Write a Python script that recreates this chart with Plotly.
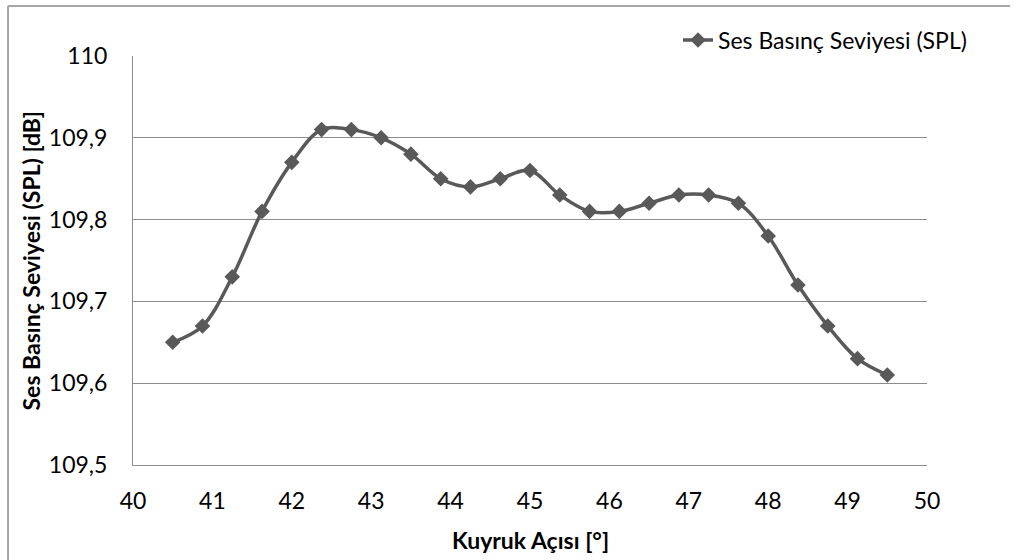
import plotly.graph_objects as go

# Tail angle [deg] and measured sound pressure level [dB]
kuyruk_acisi = [40.5, 40.875, 41.25, 41.625, 42.0, 42.375, 42.75, 43.125, 43.5,
                43.875, 44.25, 44.625, 45.0, 45.375, 45.75, 46.125, 46.5, 46.875,
                47.25, 47.625, 48.0, 48.375, 48.75, 49.125, 49.5]
spl = [109.65, 109.67, 109.73, 109.81, 109.87, 109.91, 109.91, 109.90, 109.88,
       109.85, 109.84, 109.85, 109.86, 109.83, 109.81, 109.81, 109.82, 109.83,
       109.83, 109.82, 109.78, 109.72, 109.67, 109.63, 109.61]

x_ticks = list(range(40, 51))
y_ticks = [109.5, 109.6, 109.7, 109.8, 109.9, 110.0]

FONT = "Lato, 'Open Sans', sans-serif"
SERIES_COLOR = "#595959"
GRID_COLOR = "#8c8c8c"
FRAME_COLOR = "#a6a6a6"

fig = go.Figure()
fig.add_trace(go.Scatter(
    x=kuyruk_acisi, y=spl,
    mode="lines+markers",
    name="Ses Basınç Seviyesi (SPL)",
    line=dict(color=SERIES_COLOR, width=3.5, shape="spline", smoothing=1.0),
    marker=dict(symbol="diamond", size=12, color=SERIES_COLOR),
))

fig.update_layout(
    width=1019, height=560,
    margin=dict(l=133, r=92, t=56, b=95, autoexpand=False),
    paper_bgcolor="white", plot_bgcolor="white",
    separators=",.",
    font=dict(family=FONT, size=23, color="#000000"),
    showlegend=True,
    legend=dict(
        x=1.0567, y=1.039, xref="paper", yref="paper",
        xanchor="right", yanchor="middle",
        bgcolor="rgba(0,0,0,0)", borderwidth=0,
        font=dict(family=FONT, size=23),
    ),
    xaxis=dict(
        range=[40, 50], tickvals=x_ticks,
        showgrid=False, zeroline=False,
        showline=True, linecolor=GRID_COLOR, linewidth=1,
        ticks="", ticklabelstandoff=15,
        tickfont=dict(family=FONT, size=23),
    ),
    yaxis=dict(
        range=[109.5, 110], tickvals=y_ticks,
        showgrid=True, gridcolor=GRID_COLOR, gridwidth=1,
        zeroline=False, showline=True, linecolor=GRID_COLOR, linewidth=1,
        ticks="", ticklabelstandoff=20,
        tickfont=dict(family=FONT, size=23),
    ),
    annotations=[
        dict(text="<b>Kuyruk Açısı [°]</b>", xref="paper", yref="paper",
             x=0.5, y=-0.1835, xanchor="center", yanchor="middle",
             showarrow=False, font=dict(family=FONT, size=23)),
        dict(text="<b>Ses Basınç Seviyesi (SPL) [dB]</b>", xref="paper", yref="paper",
             x=-0.1285, y=0.5, xanchor="center", yanchor="middle", textangle=-90,
             showarrow=False, font=dict(family=FONT, size=23)),
    ],
    shapes=[
        # chart frame: top and left edges
        dict(type="line", xref="paper", yref="paper", x0=-0.1574, x1=1.1045,
             y0=1.1222, y1=1.1222, line=dict(color=FRAME_COLOR, width=2)),
        dict(type="line", xref="paper", yref="paper", x0=-0.1574, x1=-0.1574,
             y0=1.1222, y1=-0.3, line=dict(color=FRAME_COLOR, width=2)),
    ],
)

fig.write_html("out.html")
